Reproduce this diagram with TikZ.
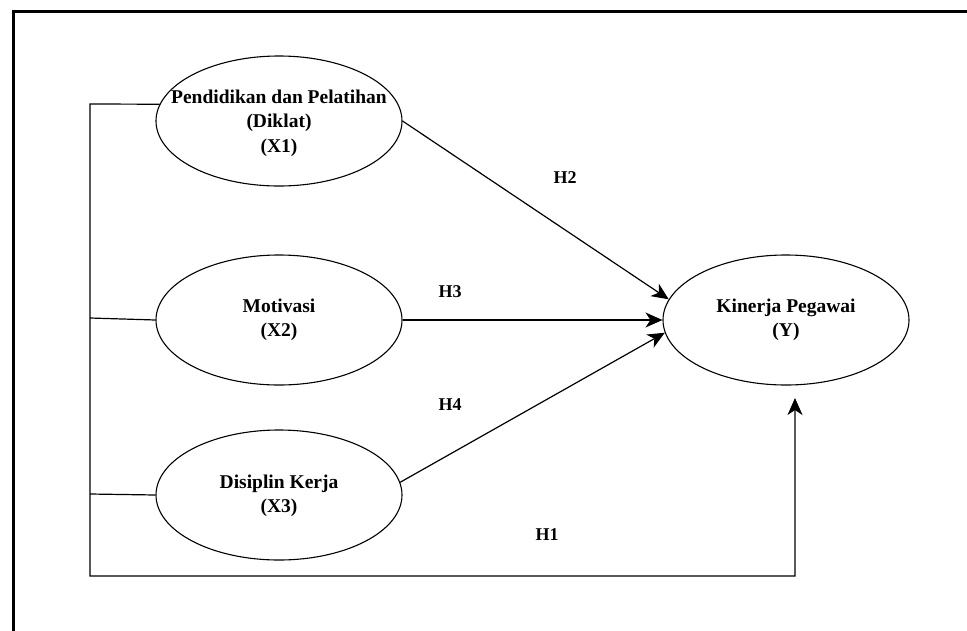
\documentclass[tikz,border=0pt]{standalone}
\usepackage{fontspec}
\setmainfont{Liberation Serif}[BoldFont={Liberation Serif Bold}]
\usetikzlibrary{shapes.geometric,arrows.meta}
\begin{document}
\begin{tikzpicture}[x=1pt,y=-1pt,
  ell/.style={draw,ellipse,line width=1.1pt,minimum width=246pt,minimum height=130pt,inner sep=0pt},
  txt/.style={align=center,font=\fontsize{19.5}{24.5}\selectfont\bfseries},
  hlab/.style={font=\fontsize{18}{20}\selectfont\bfseries},
  con/.style={line width=1.2pt},
  arr/.style={con,-{Stealth[length=17pt,width=15pt,inset=5pt]}}]
\useasboundingbox (0,0) rectangle (967,630);
\fill[white] (0,0) rectangle (967,630);
% frame
\draw[line width=3pt] (13,640) -- (13,11) -- (980,11);
% ellipses
\node[ell] (x1) at (279,121) {};
\node[ell] (x2) at (279,320) {};
\node[ell] (x3) at (279,495) {};
\node[ell] (y) at (786,320) {};
\node[txt] (tx1) at (279,123) {Pendidikan dan Pelatihan\\(Diklat)\\(X1)};
\node[txt] (tx2) at (279,320) {Motivasi\\(X2)};
\node[txt] (tx3) at (279,496) {Disiplin Kerja\\(X3)};
\node[txt] (ty) at (786,320) {Kinerja Pegawai\\(Y)};
% bus
\coordinate (b1) at (90,104);
\coordinate (b2) at (90,318);
\coordinate (b3) at (90,494);
\coordinate (b4) at (90,576);
\coordinate (c) at (795,576);
\coordinate (t1) at (795,398);
\draw[arr] (x1.172) -- (b1) -- (b4) -- (c) -- (t1);
\draw[con] (b2) -- (x2.west);
\draw[con] (b3) -- (x3.west);
% arrows
\draw[arr] (x1.east) -- (y.170);
\draw[arr] (x2.east) -- (y.west);
\draw[arr] (x3.6) -- (y.186);
% labels
\node[hlab] (h2) at (565,178) {H2};
\node[hlab] (h3) at (450,292) {H3};
\node[hlab] (h4) at (450,405) {H4};
\node[hlab] (h1) at (547,535) {H1};
\end{tikzpicture}
\end{document}
